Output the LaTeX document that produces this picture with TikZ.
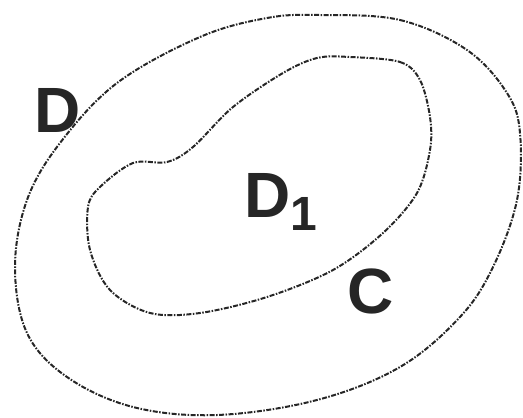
\documentclass[tikz,border=0pt]{standalone}
\usepackage{fontspec}
\setmainfont{Liberation Sans}
\usepackage{tikz}
\usetikzlibrary{calc}

\tikzset{
    region/.style={line width=2pt, dash pattern=on 5pt off 1.5pt on 1.5pt off 1.5pt, black!85},
    setname/.style={inner sep=0pt, anchor=base west, font=\fontsize{64}{64}\selectfont\bfseries, text=black!85}
}

\begin{document}
\begin{tikzpicture}[x=1pt, y=-1pt]
    \useasboundingbox (0,0) rectangle (523,418);
    % outer domain D
    \draw[region] plot[smooth cycle, tension=0.6] coordinates {
        (320,15) (400,20) (467,50) (507,93) (520,133) (517,200) (493,267)
        (460,317) (400,367) (317,400) (217,415) (133,407) (67,377)
        (27,333) (15,267) (27,200) (60,143) (117,83) (200,37) (267,18)};
    % inner region D_1 with boundary C
    \draw[region] plot[smooth cycle, tension=0.55] coordinates {
        (350,57) (400,62) (420,80) (430,117) (430,150) (417,193) (383,233)
        (333,270) (267,297) (200,313) (150,313) (110,290) (90,250)
        (88,207) (100,187) (133,163) (167,162) (193,147) (233,107)
        (283,73) (317,58)};
    \node[setname] (d) at (34,132) {D};
    \node[setname] (d1) at (244,217) {D{\fontsize{48}{48}\selectfont\raisebox{-13pt}{1}}};
    \node[setname] (c) at (347,313) {C};
\end{tikzpicture}
\end{document}
